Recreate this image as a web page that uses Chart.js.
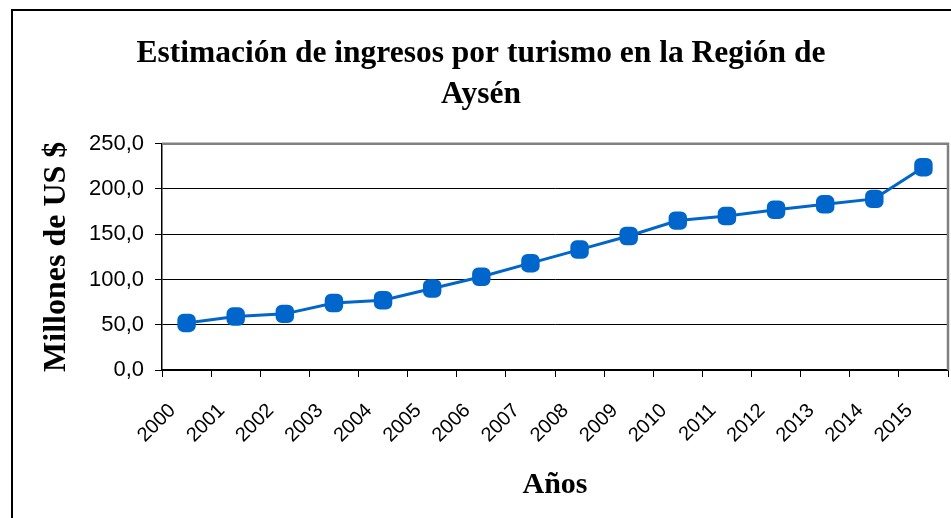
<!DOCTYPE html>
<html lang="es">
<head>
<meta charset="UTF-8">
<title>Ingresos por turismo Aysén</title>
<script src="https://cdn.jsdelivr.net/npm/chart.js@4.4.0/dist/chart.umd.min.js"></script>
<style>
  html, body { margin: 0; padding: 0; background: #fff; }
  #wrap { width: 951px; height: 518px; position: relative; }
</style>
</head>
<body>
<div id="wrap"><canvas id="chart" width="951" height="518"></canvas></div>
<script>
const years = ['2000', '2001', '2002', '2003', '2004', '2005', '2006', '2007',
               '2008', '2009', '2010', '2011', '2012', '2013', '2014', '2015'];
const ingresos = [52, 59, 62, 74, 77, 90, 103, 118, 133, 148, 165, 170, 177, 183, 189, 224];
const titleLines = ['Estimación de ingresos por turismo en la Región de', 'Aysén'];
const yTicks = [0, 50, 100, 150, 200, 250];

const serif = "'Liberation Serif', 'Times New Roman', serif";
const sans = "'Liberation Sans', Arial, sans-serif";

// outer frame and plot-area border
const framePlugin = {
  id: 'frame',
  beforeDraw(chart) {
    const ctx = chart.ctx;
    ctx.save();
    ctx.fillStyle = '#fff';
    ctx.fillRect(0, 0, chart.width, chart.height);
    ctx.strokeStyle = '#000';
    ctx.lineWidth = 2;
    ctx.strokeRect(12, 10, chart.width, chart.height);
    ctx.restore();
  },
  afterDatasetsDraw(chart) {
    const { ctx, chartArea: a } = chart;
    ctx.save();
    ctx.strokeStyle = '#808080';
    ctx.lineWidth = 2.5;
    ctx.beginPath();
    ctx.moveTo(a.left, a.top);
    ctx.lineTo(a.right, a.top);
    ctx.lineTo(a.right, a.bottom);
    ctx.stroke();
    ctx.restore();
  }
};

new Chart(document.getElementById('chart'), {
  type: 'line',
  data: {
    labels: years,
    datasets: [{
      data: ingresos,
      borderColor: '#0066CC',
      backgroundColor: '#0066CC',
      borderWidth: 3,
      pointStyle: 'rectRounded',
      pointRadius: 9,
      pointHoverRadius: 9,
      tension: 0
    }]
  },
  options: {
    responsive: false,
    animation: false,
    layout: { autoPadding: false, padding: { left: 14, right: 3, top: 0, bottom: 15 } },
    plugins: {
      legend: { display: false },
      tooltip: { enabled: false },
      title: {
        display: true,
        text: titleLines,
        color: '#000',
        font: { family: serif, size: 31.5, weight: 'bold', lineHeight: 1.28 },
        padding: { top: 34, bottom: 29 }
      }
    },
    scales: {
      x: {
        offset: true,
        grid: { drawOnChartArea: false, drawTicks: true, tickLength: 7, color: '#000', offset: true },
        border: { color: '#000', width: 1.5 },
        ticks: {
          color: '#000', font: { family: sans, size: 20 },
          maxRotation: 45, minRotation: 45, padding: 22, labelOffset: -14
        },
        title: {
          display: true, text: 'Años', color: '#000',
          font: { family: serif, size: 30, weight: 'bold', lineHeight: 1.2 },
          padding: 0
        },
        afterFit(scale) {
          scale.height = 133;
          scale.paddingRight = 0;
          scale.paddingLeft = 0;
        }
      },
      y: {
        min: 0,
        max: 250,
        afterBuildTicks(scale) { scale.ticks = yTicks.map(v => ({ value: v })); },
        grid: {
          color: ctx => (ctx.tick && ctx.tick.value === 250) ? 'rgba(0,0,0,0)' : '#000',
          lineWidth: 1,
          tickLength: 7,
          tickColor: '#000'
        },
        border: { color: '#000', width: 1.5 },
        ticks: {
          color: '#000',
          font: { family: sans, size: 22 },
          padding: 11,
          callback: v => v.toFixed(1).replace('.', ',')
        },
        title: {
          display: true, text: 'Millones de US $', color: '#000',
          font: { family: serif, size: 32, weight: 'bold', lineHeight: 1.2 },
          padding: { top: 24, bottom: 0 }
        },
        afterFit(scale) { scale.width = 148; }
      }
    }
  },
  plugins: [framePlugin]
});
</script>
</body>
</html>
